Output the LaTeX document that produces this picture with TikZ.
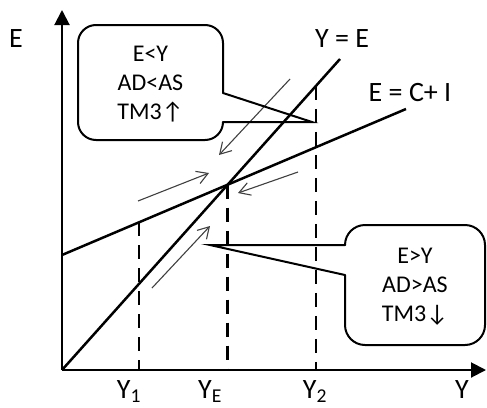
\documentclass[tikz,border=0pt]{standalone}
\usepackage{fontspec}
\setmainfont{Carlito}
\usetikzlibrary{arrows.meta, calc}

\begin{document}
\begin{tikzpicture}[
		x=1pt, y=-1pt,
		axis/.style={line width=2pt, -{Triangle[length=15pt, width=15pt]}},
		curve/.style={line width=2.5pt},
		guide/.style={line width=2.5pt, dash pattern=on 14pt off 9pt},
		balloon/.style={line width=2pt, line cap=round},
		move/.style={line width=1.1pt, black!75, -{Straight Barb[length=11pt, width=13pt]}},
		lbl/.style={font=\fontsize{28}{30}\selectfont, inner sep=0pt},
		note/.style={font=\fontsize{24}{29}\selectfont, align=center, inner sep=0pt}
	]
	\useasboundingbox (0,0) rectangle (487,407);

	% axes
	\coordinate (O) at (62,370);
	\coordinate (etop) at (62,10);
	\coordinate (yend) at (486,370);
	\draw[axis] (O) -- (etop);
	\draw[axis] (O) -- (yend);

	% Y = E and E = C + I
	\coordinate (yeEnd) at (340,59);
	\coordinate (ciStart) at (62,255);
	\coordinate (ciEnd) at (406,109);
	\draw[curve] (O) -- (yeEnd);
	\draw[curve] (ciStart) -- (ciEnd);
	\coordinate (eq) at (intersection of O--yeEnd and ciStart--ciEnd);

	% dashed guides
	\coordinate (y1top) at ($(ciStart)!{77/344}!(ciEnd)$);
	\coordinate (y2top) at ($(O)!{254/278}!(yeEnd)$);
	\draw[guide] (y1top) -- (y1top |- O);
	\draw[guide] (eq) -- (eq |- O);
	\draw[guide] (y2top) -- (y2top |- O);

	% adjustment arrows
	\coordinate (m1s) at (290,79);  \coordinate (m1e) at (219,155);
	\coordinate (m2s) at (298,172); \coordinate (m2e) at (238,193);
	\coordinate (m3s) at (138,201); \coordinate (m3e) at (209,173);
	\coordinate (m4s) at (152,288); \coordinate (m4e) at (210,226);
	\draw[move] (m1s) -- (m1e);
	\draw[move] (m2s) -- (m2e);
	\draw[move] (m3s) -- (m3e);
	\draw[move] (m4s) -- (m4e);

	% callouts
	\coordinate (tipA) at (312,122);
	\draw[balloon, rounded corners=18pt] (223,93) -- (223,25) -- (78,25) -- (78,140) -- (223,140) -- (223,122);
	\draw[balloon, line join=miter] (223,93) -- (tipA) -- (223,122);
	\node[note] (excess) at (150.5,84) {E<Y\\AD<AS\\TM3↑};

	\coordinate (tipB) at (210,245);
	\draw[balloon, rounded corners=20pt] (345,245) -- (345,225) -- (485,225) -- (485,345) -- (345,345) -- (345,275);
	\draw[balloon, line join=miter] (345,245) -- (tipB) -- (345,275);
	\node[note] (shortage) at (415,287) {E>Y\\AD>AS\\TM3↓};

	% labels
	\node[lbl, anchor=base] (elbl) at (16,47) {E};
	\node[lbl, anchor=base] (yelbl) at (342,47) {Y = E};
	\node[lbl, anchor=base] (cilbl) at (410,101) {E = C+ I};
	\node[lbl, anchor=base] (y1lbl) at (129,398) {Y$_{\mathrm{1}}$};
	\node[lbl, anchor=base] (yelb) at (210,398) {Y$_{\mathrm{E}}$};
	\node[lbl, anchor=base] (y2lbl) at (315,398) {Y$_{\mathrm{2}}$};
	\node[lbl, anchor=base] (ylbl) at (462,398) {Y};
\end{tikzpicture}
\end{document}
